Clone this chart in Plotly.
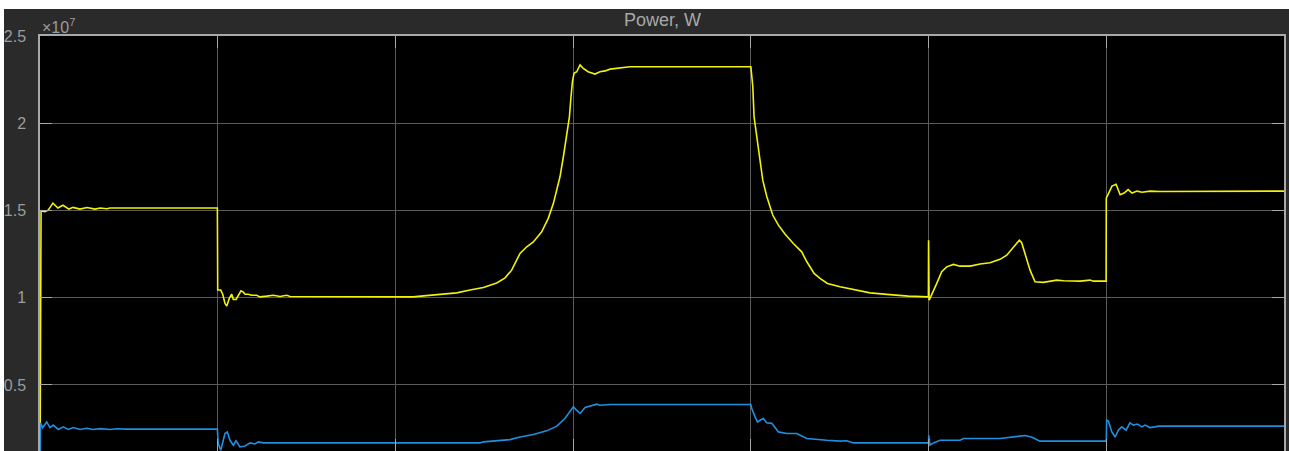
import plotly.graph_objects as go

# Time axis (arbitrary units, 7 grid divisions) and power in units of 1e7 W
t_yellow = [0.0, 0.003, 0.006, 0.028, 0.046, 0.073, 0.101, 0.129, 0.163, 0.186, 0.225, 0.264,
            0.31, 0.338, 0.377, 0.394, 0.998,
            1.0, 1.017, 1.028, 1.041, 1.051, 1.065, 1.079, 1.088, 1.103, 1.116, 1.131, 1.144,
            1.154, 1.172, 1.191, 1.219, 1.238, 1.276, 1.313, 1.351, 1.388, 1.407, 1.44, 2.099,
            2.251, 2.345, 2.42, 2.495, 2.57, 2.617, 2.654, 2.683, 2.701, 2.739, 2.776, 2.823,
            2.86, 2.889, 2.908, 2.926, 2.945, 2.964, 2.979, 2.988, 2.996, 3.005, 3.02, 3.039,
            3.057, 3.084, 3.123, 3.151, 3.18, 3.208, 3.264, 3.32, 4.0,
            4.011, 4.018, 4.033, 4.052, 4.067, 4.09, 4.123, 4.155, 4.192, 4.239, 4.286, 4.315,
            4.356, 4.389, 4.431, 4.502, 4.577, 4.671, 4.765, 4.886, 4.999,
            5.0, 5.003, 5.012, 5.022, 5.046, 5.074, 5.102, 5.14, 5.177, 5.234, 5.29, 5.346,
            5.402, 5.44, 5.477, 5.511, 5.524, 5.543, 5.571, 5.599, 5.646, 5.721, 5.759, 5.853,
            5.909, 5.927, 5.999,
            6.0, 6.01, 6.032, 6.055, 6.078, 6.1, 6.123, 6.145, 6.173, 6.201, 6.246, 6.303, 7.0]
p_yellow = [0.0, 1.485, 1.497, 1.493, 1.502, 1.542, 1.514, 1.53, 1.508, 1.518, 1.508, 1.517,
            1.508, 1.514, 1.51, 1.514, 1.514,
            1.045, 1.044, 1.02, 0.967, 0.952, 0.996, 1.02, 0.99, 0.99, 1.01, 1.04, 1.032,
            1.02, 1.02, 1.014, 1.014, 1.005, 1.009, 1.014, 1.007, 1.014, 1.007, 1.007, 1.005,
            1.019, 1.028, 1.044, 1.059, 1.085, 1.114, 1.158, 1.216, 1.254, 1.292, 1.32, 1.378,
            1.455, 1.541, 1.617, 1.693, 1.808, 1.923, 2.037, 2.152, 2.238, 2.286, 2.295, 2.334,
            2.314, 2.295, 2.282, 2.295, 2.3, 2.31, 2.318, 2.324, 2.324,
            2.209, 2.037, 1.923, 1.789, 1.674, 1.579, 1.474, 1.416, 1.365, 1.311, 1.263, 1.206,
            1.139, 1.111, 1.082, 1.063, 1.048, 1.028, 1.019, 1.009, 1.005,
            1.33, 0.986, 1.005, 1.025, 1.082, 1.149, 1.177, 1.191, 1.181, 1.181, 1.193, 1.2,
            1.22, 1.244, 1.292, 1.33, 1.315, 1.254, 1.158, 1.091, 1.088, 1.101, 1.097, 1.095,
            1.101, 1.095, 1.095,
            1.57, 1.59, 1.64, 1.65, 1.59, 1.6, 1.62, 1.6, 1.611, 1.605, 1.611, 1.609, 1.611]

t_blue = [0.0, 0.003, 0.015, 0.038, 0.056, 0.075, 0.103, 0.131, 0.159, 0.187, 0.225, 0.263,
          0.3, 0.338, 0.394, 0.432, 0.488, 0.998,
          1.003, 1.017, 1.041, 1.054, 1.069, 1.088, 1.103, 1.125, 1.154, 1.182, 1.21, 1.228,
          1.257, 1.294, 1.332, 1.388, 2.476,
          2.495, 2.589, 2.645, 2.701, 2.776, 2.851, 2.908, 2.954, 2.983, 3.001, 3.016, 3.039,
          3.067, 3.105, 3.133, 3.151, 3.208, 4.0,
          4.005, 4.024, 4.037, 4.052, 4.07, 4.089, 4.118, 4.136, 4.155, 4.202, 4.258, 4.315,
          4.352, 4.427, 4.502, 4.54, 4.577, 5.0,
          5.001, 5.008, 5.027, 5.065, 5.177, 5.196, 5.402, 5.487, 5.543, 5.582, 5.627, 6.0,
          6.002, 6.012, 6.031, 6.05, 6.068, 6.087, 6.111, 6.133, 6.153, 6.175, 6.2, 6.218,
          6.246, 6.274, 6.293, 7.0]
p_blue = [0.0, 0.283, 0.256, 0.288, 0.256, 0.27, 0.245, 0.26, 0.245, 0.256, 0.245, 0.252,
          0.245, 0.25, 0.245, 0.249, 0.247, 0.247,
          0.164, 0.126, 0.222, 0.231, 0.183, 0.155, 0.18, 0.145, 0.15, 0.168, 0.162, 0.174,
          0.168, 0.168, 0.164, 0.168, 0.168,
          0.174, 0.18, 0.187, 0.202, 0.216, 0.237, 0.264, 0.308, 0.346, 0.375, 0.359, 0.337,
          0.371, 0.384, 0.39, 0.384, 0.388, 0.388,
          0.365, 0.317, 0.288, 0.298, 0.308, 0.283, 0.28, 0.256, 0.231, 0.222, 0.222, 0.193,
          0.189, 0.183, 0.178, 0.18, 0.168, 0.168,
          0.212, 0.155, 0.168, 0.183, 0.183, 0.193, 0.193, 0.205, 0.21, 0.2, 0.178, 0.178,
          0.298, 0.293, 0.231, 0.202, 0.241, 0.26, 0.241, 0.283, 0.27, 0.276, 0.26, 0.27,
          0.256, 0.26, 0.264, 0.264]

title_text = "Power, W"
exponent_text = "×10<sup>7</sup>"
y_ticks = [0.5, 1, 1.5, 2, 2.5]
y_ticktext = ["0.5", "1", "1.5", "2", "2.5"]

W, H = 1289, 451
ML, MR, MT, MB = 40, 5, 36, 0
plot_w = W - ML - MR
plot_h = H - MT - MB

fig = go.Figure()
fig.add_trace(go.Scatter(x=t_yellow, y=p_yellow, mode="lines",
                         line=dict(color="#f2f20a", width=1.6), showlegend=False))
fig.add_trace(go.Scatter(x=t_blue, y=p_blue, mode="lines",
                         line=dict(color="#1f8fe0", width=1.6), showlegend=False))

axis_common = dict(
    showgrid=True, gridcolor="#5a5a5a", gridwidth=1,
    showline=True, linecolor="#a8a8a8", linewidth=1.5, mirror="ticks",
    ticks="inside", ticklen=12, tickcolor="#a8a8a8", tickwidth=1,
    zeroline=False, automargin=False,
)

fig.update_xaxes(range=[0, 7], dtick=1, showticklabels=False, **axis_common)
fig.update_yaxes(range=[0.1216, 2.5], tickvals=y_ticks, ticktext=y_ticktext,
                 tickfont=dict(family="Liberation Sans, Arial", size=16, color="#9c9c9c"),
                 ticklabelstandoff=9, **axis_common)

def px_to_paper_y(py):
    return (H - MB - py) / plot_h

def px_to_paper_x(px):
    return (px - ML) / plot_w

fig.update_layout(
    width=W, height=H,
    margin=dict(l=ML, r=MR, t=MT, b=MB, pad=0, autoexpand=False),
    paper_bgcolor="#2a2a2a",
    plot_bgcolor="#000000",
    showlegend=False,
    shapes=[
        dict(type="rect", xref="paper", yref="paper", layer="below",
             x0=-0.1, x1=1.1, y0=px_to_paper_y(9), y1=1.3,
             fillcolor="#ffffff", line=dict(width=0)),
        dict(type="rect", xref="paper", yref="paper", layer="below",
             x0=-0.1, x1=px_to_paper_x(4), y0=-0.2, y1=1.3,
             fillcolor="#ffffff", line=dict(width=0)),
    ],
    annotations=[
        dict(text=title_text, xref="paper", yref="paper", x=0.5, y=px_to_paper_y(20),
             xanchor="center", yanchor="middle", showarrow=False,
             font=dict(family="Liberation Sans, Arial", size=18, color="#a8a8a8")),
        dict(text=exponent_text, xref="paper", yref="paper", x=0, y=px_to_paper_y(26),
             xanchor="left", yanchor="middle", showarrow=False,
             font=dict(family="Liberation Sans, Arial", size=16, color="#9c9c9c")),
    ],
)

fig.write_html(
    "out.html",
    config={"displayModeBar": False},
    post_script="document.body.style.margin='0';document.body.style.overflow='hidden';",
)
